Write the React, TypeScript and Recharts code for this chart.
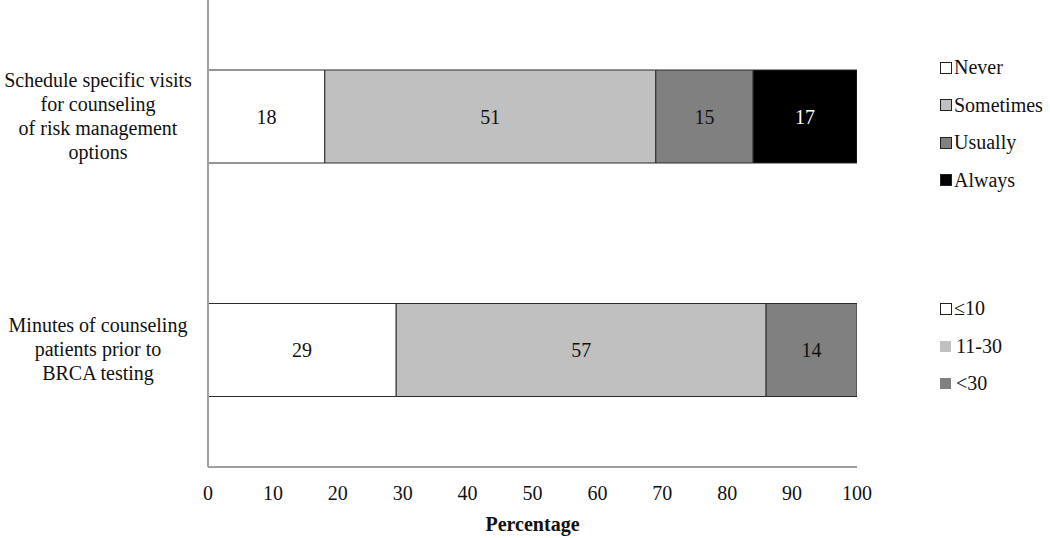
import React from 'react';
import { BarChart, Bar, XAxis, YAxis, Legend, LabelList } from 'recharts';

const FONT = "'Liberation Serif', 'DejaVu Serif', 'Times New Roman', Times, serif";

// Categories (y-axis), each label split into lines
const categoryKeys = ['schedule', 'minutes'];
const categoryLines: string[][] = [
  ['Schedule specific visits', 'for counseling', 'of risk management', 'options'],
  ['Minutes of counseling', 'patients prior to', 'BRCA testing'],
];

// Series for "Schedule specific visits..."
const frequencyNames = ['Never', 'Sometimes', 'Usually', 'Always'];
const frequencyValues = [18, 51, 15, 17];
const frequencyColors = ['#ffffff', '#c0c0c0', '#808080', '#000000'];

// Series for "Minutes of counseling..."
const minutesNames = ['≤10', '11-30', '<30'];
const minutesValues = [29, 57, 14];
const minutesColors = ['#ffffff', '#c0c0c0', '#808080'];

const xTicks = [0, 10, 20, 30, 40, 50, 60, 70, 80, 90, 100];

const freqKeys = frequencyNames.map((_, i) => `f${i}`);
const minKeys = minutesNames.map((_, i) => `m${i}`);

const row0: Record<string, any> = { category: categoryKeys[0] };
freqKeys.forEach((k, i) => (row0[k] = frequencyValues[i]));
const row1: Record<string, any> = { category: categoryKeys[1] };
minKeys.forEach((k, i) => (row1[k] = minutesValues[i]));
const data = [row0, row1];

const CategoryTick = (props: any) => {
  const { x, y, payload } = props;
  const idx = categoryKeys.indexOf(payload.value);
  const lines = categoryLines[idx] || [];
  const lh = 24;
  const cx = x - 102;
  return (
    <text x={cx} y={y} textAnchor="middle" style={{ fontFamily: FONT }} fontSize={20} fill="#111">
      {lines.map((l, i) => (
        <tspan key={i} x={cx} y={y + (i - (lines.length - 1) / 2) * lh + 6}>
          {l}
        </tspan>
      ))}
    </text>
  );
};

const makeLabel = (color: string) => (props: any) => {
  const { x, y, width, height, value } = props;
  if (!value || !width) return null;
  return (
    <text
      x={x + width / 2}
      y={y + height / 2}
      textAnchor="middle"
      dominantBaseline="central"
      style={{ fontFamily: FONT }}
      fontSize={20}
      fill={color}
    >
      {value}
    </text>
  );
};

const LegendItem = ({ name, color, border, gap }: { name: string; color: string; border: boolean; gap: number }) => (
  <div style={{ display: 'flex', alignItems: 'center', height: 37.5 }}>
    <span
      style={{
        display: 'inline-block',
        width: border ? 10 : 11,
        height: border ? 10 : 11,
        background: color,
        border: border ? '1px solid #222' : 'none',
        marginRight: gap,
      }}
    />
    <span style={{ fontFamily: FONT, fontSize: 20, color: '#111', whiteSpace: 'nowrap' }}>{name}</span>
  </div>
);

const renderLegend = () => (
  <div style={{ width: 110 }}>
    <div>
      {frequencyNames.map((n, i) => (
        <LegendItem key={n} name={n} color={frequencyColors[i]} border={true} gap={2} />
      ))}
    </div>
    <div style={{ marginTop: 91 }}>
      {minutesNames.map((n, i) => (
        <LegendItem key={n} name={n} color={minutesColors[i]} border={i === 0} gap={i === 0 ? 2 : 5} />
      ))}
    </div>
  </div>
);

export default function App() {
  return (
    <div style={{ position: 'absolute', left: 0, top: 0, background: '#fff', fontFamily: FONT }}>
      <BarChart
        width={1050}
        height={538}
        data={data}
        layout="vertical"
        margin={{ top: 0, right: 193, bottom: 0, left: 0 }}
        style={{ fontFamily: FONT }}
      >
        <XAxis
          type="number"
          domain={[0, 100]}
          ticks={xTicks}
          allowDataOverflow
          height={71}
          tickLine={false}
          tickMargin={13}
          axisLine={{ stroke: '#a0a0a0', strokeWidth: 2 }}
          tick={{ fill: '#111', fontSize: 20, style: { fontFamily: FONT } }}
          label={{
            value: 'Percentage',
            position: 'insideBottom',
            offset: 7,
            fill: '#111',
            fontSize: 20,
            fontWeight: 'bold',
            style: { fontFamily: FONT },
          }}
        />
        <YAxis
          type="category"
          dataKey="category"
          width={208}
          tickLine={false}
          axisLine={{ stroke: '#a0a0a0', strokeWidth: 2 }}
          tick={<CategoryTick />}
        />
        <Legend
          layout="vertical"
          align="center"
          verticalAlign="middle"
          content={renderLegend}
          wrapperStyle={{ position: 'absolute', left: 940, top: 49, width: 110, height: 300 }}
        />
        {freqKeys.map((k, i) => (
          <Bar
            key={k}
            dataKey={k}
            name={frequencyNames[i]}
            stackId="a"
            fill={frequencyColors[i]}
            stroke="#2a2a2a"
            strokeWidth={1}
            barSize={93}
            isAnimationActive={false}
          >
            <LabelList dataKey={k} content={makeLabel(i === 3 ? '#ffffff' : '#111')} />
          </Bar>
        ))}
        {minKeys.map((k, i) => (
          <Bar
            key={k}
            dataKey={k}
            name={minutesNames[i]}
            stackId="a"
            fill={minutesColors[i]}
            stroke="#2a2a2a"
            strokeWidth={1}
            barSize={93}
            isAnimationActive={false}
          >
            <LabelList dataKey={k} content={makeLabel('#111')} />
          </Bar>
        ))}
      </BarChart>
    </div>
  );
}
